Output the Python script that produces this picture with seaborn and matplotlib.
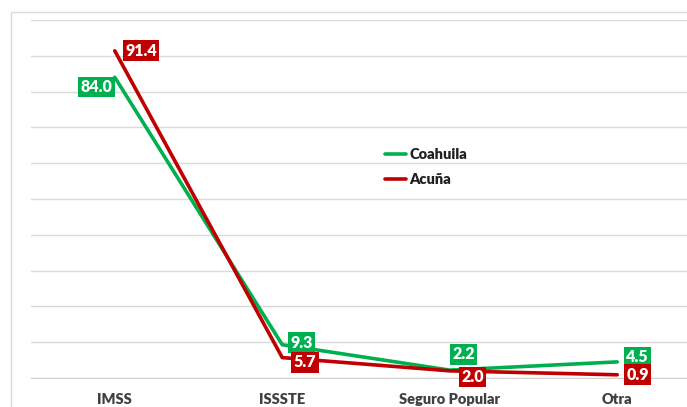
import matplotlib
matplotlib.use("Agg")
import matplotlib.pyplot as plt
import matplotlib.patches as mpatches
import pandas as pd
import seaborn as sns

# data
categories = ["IMSS", "ISSSTE", "Seguro Popular", "Otra"]
coahuila = [84.0, 9.3, 2.2, 4.5]
acuna = [91.4, 5.7, 2.0, 0.9]

series_names = ["Coahuila", "Acuña"]
palette = {"Coahuila": "#00B050", "Acuña": "#C00000"}

# label offsets (points) from each point to its value box centre
label_offsets = {
    "Coahuila": [(-13, -7), (14, 1.5), (10, 11.5), (14.5, 3.5)],
    "Acuña": [(19, 0), (16.5, -3.5), (16.5, -4.5), (14.5, 0)],
}

df = pd.DataFrame({
    "categoria": categories * 2,
    "valor": coahuila + acuna,
    "serie": [series_names[0]] * 4 + [series_names[1]] * 4,
})

sns.set_style("white")
plt.rcParams["font.family"] = ["Lato", "DejaVu Sans"]

fig = plt.figure(figsize=(6.87, 4.07), dpi=100)
ax = fig.add_axes([31 / 687, 29 / 407, 670 / 687, 358 / 407])

# outer chart frame (cut off at right and bottom like the reference)
fig.patches.append(mpatches.Rectangle((11 / 687, 29 / 407 - 0.2), 1.2, 0.97 - (29 / 407 - 0.2),
                                      transform=fig.transFigure, fill=False,
                                      edgecolor="#d9d9d9", linewidth=1.0, zorder=0))

sns.lineplot(data=df, x="categoria", y="valor", hue="serie", palette=palette,
             hue_order=series_names, linewidth=2.6, sort=False, ax=ax,
             estimator=None, legend=True)

ax.set_xlim(-0.5, 3.5)
ax.set_ylim(0, 100)
ax.set_yticks(range(0, 101, 10))
ax.set_yticklabels([])
ax.tick_params(axis="y", length=0)
ax.grid(axis="y", color="#d9d9d9", linewidth=1.0)
ax.set_axisbelow(True)
for s in ["top", "right", "left"]:
    ax.spines[s].set_visible(False)
ax.spines["bottom"].set_color("#d0d0d0")
ax.set_xlabel("")
ax.set_ylabel("")

ax.set_xticks(range(len(categories)))
ax.set_xticklabels(categories, fontsize=10.5, fontweight="heavy", color="#404040")
ax.tick_params(axis="x", length=0, pad=11)
ax.set_xticks([-0.5, 0.5, 1.5, 2.5], minor=True)
ax.tick_params(axis="x", which="minor", length=4, color="#d0d0d0", direction="out")

# value boxes
for name, vals, z in [("Coahuila", coahuila, 5), ("Acuña", acuna, 6)]:
    for i, v in enumerate(vals):
        dx, dy = label_offsets[name][i]
        ax.annotate(f"{v:.1f}", xy=(i, v), xytext=(dx, dy), textcoords="offset points",
                    ha="center", va="center", fontsize=11.5, fontweight="heavy", color="white",
                    bbox=dict(boxstyle="square,pad=0.15", fc=palette[name], ec="none"),
                    zorder=z)

handles, labels = ax.get_legend_handles_labels()
leg = ax.legend(handles, labels, frameon=False, loc="upper left",
                bbox_to_anchor=(385 / 687, (407 - 148) / 407), bbox_transform=fig.transFigure,
                borderpad=0, borderaxespad=0, handlelength=1.45, handletextpad=0.2,
                labelspacing=0.8, prop={"weight": "heavy", "size": 10.5})
for t in leg.get_texts():
    t.set_color("#202020")

fig.savefig("out.png", dpi=100)
